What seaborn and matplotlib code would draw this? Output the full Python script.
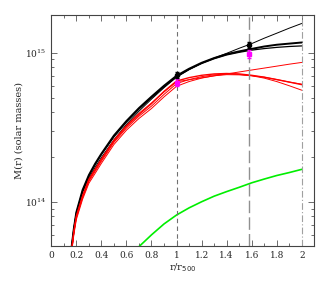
import numpy as np
import pandas as pd
import matplotlib
matplotlib.use("Agg")
import matplotlib.pyplot as plt
import matplotlib.ticker as mticker
import seaborn as sns

# radius grid, r / r500
r_grid = [0.16, 0.18, 0.2, 0.25, 0.3, 0.35, 0.4, 0.5, 0.6, 0.7, 0.8, 0.9,
          1.0, 1.1, 1.2, 1.3, 1.4, 1.5, 1.6, 1.7, 1.8, 1.9, 2.0]

# enclosed mass profiles, units of 1e14 solar masses
black_a = [0.49, 0.67, 0.84, 1.16, 1.44, 1.70, 1.98, 2.60, 3.30, 4.05, 4.88, 5.82,
           6.85, 7.7, 8.5, 9.2, 9.9, 10.7, 11.5, 12.5, 13.5, 14.6, 15.7]
black_b = [0.48, 0.66, 0.85, 1.20, 1.51, 1.80, 2.10, 2.78, 3.48, 4.25, 5.07, 6.00,
           7.00, 7.80, 8.55, 9.20, 9.77, 10.2, 10.6, 11.0, 11.3, 11.5, 11.7]
black_c = [0.47, 0.65, 0.84, 1.18, 1.49, 1.77, 2.07, 2.72, 3.42, 4.18, 4.98, 5.90,
           6.88, 7.70, 8.45, 9.10, 9.65, 10.05, 10.4, 10.65, 10.85, 11.0, 11.1]
red_1 = [0.46, 0.63, 0.80, 1.10, 1.42, 1.66, 1.94, 2.60, 3.25, 3.92, 4.60, 5.45,
         6.38, 6.58, 6.78, 6.99, 7.2, 7.42, 7.65, 7.88, 8.12, 8.37, 8.6]
red_2 = [0.46, 0.63, 0.80, 1.09, 1.40, 1.64, 1.91, 2.55, 3.20, 3.85, 4.55, 5.50,
         6.45, 6.8, 7.05, 7.2, 7.25, 7.2, 7.05, 6.85, 6.6, 6.35, 6.1]
red_3 = [0.45, 0.62, 0.78, 1.07, 1.37, 1.60, 1.87, 2.50, 3.12, 3.75, 4.38, 5.25,
         6.2, 6.6, 6.9, 7.1, 7.2, 7.15, 7.0, 6.75, 6.4, 6.0, 5.6]
red_4 = [0.44, 0.60, 0.76, 1.04, 1.33, 1.55, 1.81, 2.42, 3.02, 3.62, 4.22, 5.05,
         5.95, 6.4, 6.75, 7.0, 7.12, 7.1, 7.0, 6.85, 6.6, 6.35, 6.15]

r_green = [0.7, 0.8, 0.9, 1.0, 1.1, 1.2, 1.3, 1.4, 1.5, 1.6, 1.7, 1.8, 1.9, 2.0]
green = [0.50, 0.60, 0.71, 0.815, 0.91, 1.0, 1.09, 1.17, 1.25, 1.34, 1.42, 1.50, 1.57, 1.65]

# measured points
r_pts = [1.0, 1.58]
m_black_pts = [7.07, 11.3]
e_black_pts = [0.35, 0.5]
m_mag_pts = [6.3, 9.8]
e_mag_pts = [0.35, 0.6]

sns.set_style("ticks")
plt.rcParams['font.family'] = ['DejaVu Serif']

fig = plt.figure(figsize=(3.32, 2.91), dpi=100)
ax = fig.add_axes([0.1545, 0.1546, 0.7922, 0.794])

curves = [
    (black_a, "black", 0.7),
    (black_b, "black", 1.4),
    (black_c, "black", 0.9),
    (red_1, "red", 0.7),
    (red_2, "red", 1.0),
    (red_3, "red", 0.7),
    (red_4, "red", 0.7),
]
for vals, col, lw in curves:
    sns.lineplot(x=r_grid, y=np.array(vals) * 1e14, color=col, lw=lw, ax=ax)
sns.lineplot(x=r_green, y=np.array(green) * 1e14, color="#00ee00", lw=1.2, ax=ax)

ax.axvline(1.0, color="#707070", lw=0.8, dashes=(4, 3))
ax.axvline(1.58, color="#909090", lw=1.0, dashes=(9, 3))
ax.axvline(2.0, color="#a0a0a0", lw=0.8, dashes=(6, 2, 1, 2))

ax.errorbar(r_pts, np.array(m_mag_pts) * 1e14, yerr=np.array(e_mag_pts) * 1e14,
            fmt="s", color="magenta", ms=2.8, elinewidth=0.8, capsize=1.5)
ax.errorbar(r_pts, np.array(m_black_pts) * 1e14, yerr=np.array(e_black_pts) * 1e14,
            fmt="o", color="black", ms=3, elinewidth=0.8, capsize=1.5)

ax.set_yscale("log")
ax.set_xlim(0, 2.1)
ax.set_ylim(5.05e13, 1.79e15)
ax.xaxis.set_major_locator(mticker.MultipleLocator(0.2))
ax.xaxis.set_minor_locator(mticker.MultipleLocator(0.1))
ax.xaxis.set_major_formatter(mticker.FuncFormatter(lambda v, p: "%g" % round(v, 2)))
ax.yaxis.set_major_locator(mticker.LogLocator(base=10))
ax.yaxis.set_minor_locator(mticker.LogLocator(base=10, subs=np.arange(2, 10)))
ax.yaxis.set_minor_formatter(mticker.NullFormatter())

ax.tick_params(which="both", direction="in", top=True, right=True, labelsize=6.5,
               color="#555555", width=0.6)
ax.tick_params(which="major", length=4)
ax.tick_params(which="minor", length=2)
for s in ax.spines.values():
    s.set_linewidth(0.8)
    s.set_color("#444444")

ax.set_xlabel("r/r$_{500}$", fontsize=7, labelpad=1)
ax.set_ylabel("M(r) (solar masses)", fontsize=7, labelpad=1)

fig.savefig("out.png", dpi=100)
